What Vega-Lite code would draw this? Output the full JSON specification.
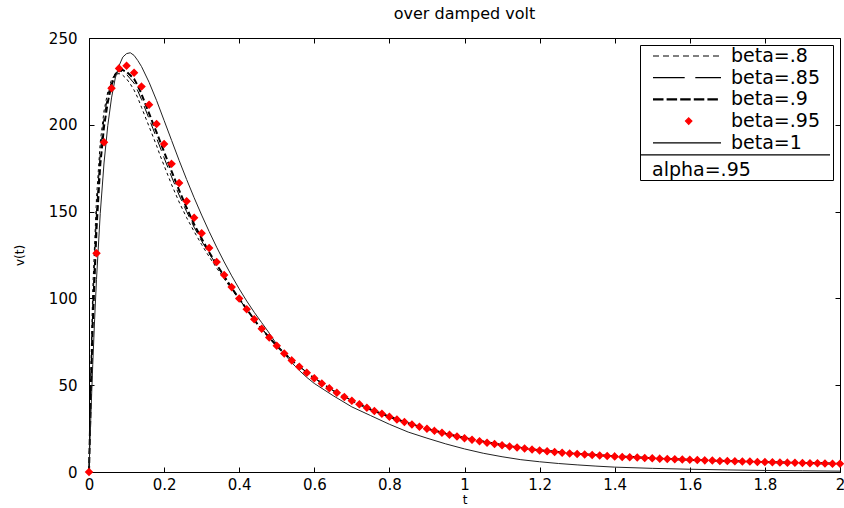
{
  "$schema": "https://vega.github.io/schema/vega-lite/v6.json",
  "width": 751,
  "height": 434,
  "autosize": {"type": "none"},
  "padding": {"left": 89, "top": 38, "right": 4, "bottom": 36},
  "config": {
    "font": "DejaVu Sans",
    "view": {"stroke": "#000", "strokeWidth": 1},
    "axis": {
      "labelFont": "DejaVu Sans", "labelColor": "#000", "labelFontSize": 15,
      "titleFont": "DejaVu Sans", "titleColor": "#000", "titleFontSize": 12, "titleFontWeight": "normal",
      "domain": false, "ticks": false, "grid": true, "gridColor": "#000", "gridOpacity": 1, "gridWidth": 1,
      "labelFlush": false
    },
    "legend": {
      "orient": "top-right", "offset": 7,
      "strokeColor": "#000", "strokeWidth": 1, "fillColor": "#fff", "padding": 0,
      "titleOrient": "bottom", "titleAnchor": "start", "titleFontSize": 19, "titleFontWeight": "normal",
      "titleFont": "DejaVu Sans", "titleColor": "#000", "titlePadding": 4,
      "labelFontSize": 19, "labelFont": "DejaVu Sans", "labelColor": "#000", "labelOffset": 69, "labelLimit": 300,
      "symbolSize": 400, "symbolStrokeWidth": 1.2, "rowPadding": 0.7
    }
  },
  "title": {"text": "over damped volt", "fontSize": 16, "fontWeight": "normal", "color": "#000", "offset": 9, "font": "DejaVu Sans"},
  "data": {"values": [
    {"series": "beta=.8", "t": 0, "v": 0}, {"series": "beta=.8", "t": 0.005, "v": 60}, {"series": "beta=.8", "t": 0.01, "v": 105}, {"series": "beta=.8", "t": 0.02, "v": 158}, {"series": "beta=.8", "t": 0.03, "v": 190}, {"series": "beta=.8", "t": 0.04, "v": 208}, {"series": "beta=.8", "t": 0.05, "v": 219}, {"series": "beta=.8", "t": 0.06, "v": 226}, {"series": "beta=.8", "t": 0.07, "v": 229}, {"series": "beta=.8", "t": 0.08, "v": 229.5}, {"series": "beta=.8", "t": 0.09, "v": 228.5}, {"series": "beta=.8", "t": 0.1, "v": 226.5}, {"series": "beta=.8", "t": 0.11, "v": 223.5}, {"series": "beta=.8", "t": 0.12, "v": 220}, {"series": "beta=.8", "t": 0.13, "v": 215.5}, {"series": "beta=.8", "t": 0.14, "v": 210}, {"series": "beta=.8", "t": 0.15, "v": 204.5}, {"series": "beta=.8", "t": 0.16, "v": 199}, {"series": "beta=.8", "t": 0.17, "v": 193.5}, {"series": "beta=.8", "t": 0.18, "v": 188}, {"series": "beta=.8", "t": 0.19, "v": 182}, {"series": "beta=.8", "t": 0.2, "v": 176.5}, {"series": "beta=.8", "t": 0.22, "v": 165.5}, {"series": "beta=.8", "t": 0.24, "v": 155.5}, {"series": "beta=.8", "t": 0.26, "v": 146.5}, {"series": "beta=.8", "t": 0.28, "v": 138.5}, {"series": "beta=.8", "t": 0.3, "v": 131}, {"series": "beta=.8", "t": 0.32, "v": 124}, {"series": "beta=.8", "t": 0.34, "v": 117.5}, {"series": "beta=.8", "t": 0.36, "v": 111.3}, {"series": "beta=.8", "t": 0.38, "v": 105.2}, {"series": "beta=.8", "t": 0.4, "v": 99.5}, {"series": "beta=.8", "t": 0.45, "v": 85}, {"series": "beta=.8", "t": 0.5, "v": 72.8}, {"series": "beta=.8", "t": 0.55, "v": 62.5}, {"series": "beta=.8", "t": 0.6, "v": 54.2}, {"series": "beta=.8", "t": 0.65, "v": 47}, {"series": "beta=.8", "t": 0.7, "v": 41.2}, {"series": "beta=.8", "t": 0.75, "v": 36.2}, {"series": "beta=.8", "t": 0.8, "v": 32}, {"series": "beta=.8", "t": 0.85, "v": 28.3}, {"series": "beta=.8", "t": 0.9, "v": 25.1}, {"series": "beta=.8", "t": 0.95, "v": 22.3}, {"series": "beta=.8", "t": 1, "v": 19.8}, {"series": "beta=.8", "t": 1.1, "v": 15.7}, {"series": "beta=.8", "t": 1.2, "v": 12.7}, {"series": "beta=.8", "t": 1.3, "v": 10.6}, {"series": "beta=.8", "t": 1.4, "v": 9.2}, {"series": "beta=.8", "t": 1.5, "v": 8.1}, {"series": "beta=.8", "t": 1.6, "v": 7.2}, {"series": "beta=.8", "t": 1.7, "v": 6.5}, {"series": "beta=.8", "t": 1.8, "v": 5.9}, {"series": "beta=.8", "t": 1.9, "v": 5.4}, {"series": "beta=.8", "t": 2, "v": 5},
    {"series": "beta=.85", "t": 0, "v": 0}, {"series": "beta=.85", "t": 0.005, "v": 52}, {"series": "beta=.85", "t": 0.01, "v": 95}, {"series": "beta=.85", "t": 0.02, "v": 150}, {"series": "beta=.85", "t": 0.03, "v": 184}, {"series": "beta=.85", "t": 0.04, "v": 204}, {"series": "beta=.85", "t": 0.05, "v": 217}, {"series": "beta=.85", "t": 0.06, "v": 225}, {"series": "beta=.85", "t": 0.07, "v": 229.5}, {"series": "beta=.85", "t": 0.08, "v": 231}, {"series": "beta=.85", "t": 0.09, "v": 230.5}, {"series": "beta=.85", "t": 0.1, "v": 229}, {"series": "beta=.85", "t": 0.11, "v": 226.5}, {"series": "beta=.85", "t": 0.12, "v": 224}, {"series": "beta=.85", "t": 0.13, "v": 219.5}, {"series": "beta=.85", "t": 0.14, "v": 214.5}, {"series": "beta=.85", "t": 0.15, "v": 209}, {"series": "beta=.85", "t": 0.16, "v": 203.5}, {"series": "beta=.85", "t": 0.17, "v": 198}, {"series": "beta=.85", "t": 0.18, "v": 192.3}, {"series": "beta=.85", "t": 0.19, "v": 186.7}, {"series": "beta=.85", "t": 0.2, "v": 181}, {"series": "beta=.85", "t": 0.22, "v": 170}, {"series": "beta=.85", "t": 0.24, "v": 159.5}, {"series": "beta=.85", "t": 0.26, "v": 150}, {"series": "beta=.85", "t": 0.28, "v": 141}, {"series": "beta=.85", "t": 0.3, "v": 133}, {"series": "beta=.85", "t": 0.32, "v": 126}, {"series": "beta=.85", "t": 0.34, "v": 119}, {"series": "beta=.85", "t": 0.36, "v": 112.5}, {"series": "beta=.85", "t": 0.38, "v": 105.8}, {"series": "beta=.85", "t": 0.4, "v": 99.7}, {"series": "beta=.85", "t": 0.45, "v": 84.9}, {"series": "beta=.85", "t": 0.5, "v": 72.7}, {"series": "beta=.85", "t": 0.55, "v": 62.4}, {"series": "beta=.85", "t": 0.6, "v": 54.1}, {"series": "beta=.85", "t": 0.65, "v": 46.9}, {"series": "beta=.85", "t": 0.7, "v": 41.1}, {"series": "beta=.85", "t": 0.75, "v": 36.1}, {"series": "beta=.85", "t": 0.8, "v": 31.9}, {"series": "beta=.85", "t": 0.85, "v": 28.2}, {"series": "beta=.85", "t": 0.9, "v": 25}, {"series": "beta=.85", "t": 0.95, "v": 22.2}, {"series": "beta=.85", "t": 1, "v": 19.7}, {"series": "beta=.85", "t": 1.1, "v": 15.6}, {"series": "beta=.85", "t": 1.2, "v": 12.6}, {"series": "beta=.85", "t": 1.3, "v": 10.5}, {"series": "beta=.85", "t": 1.4, "v": 9.1}, {"series": "beta=.85", "t": 1.5, "v": 8}, {"series": "beta=.85", "t": 1.6, "v": 7.1}, {"series": "beta=.85", "t": 1.7, "v": 6.4}, {"series": "beta=.85", "t": 1.8, "v": 5.8}, {"series": "beta=.85", "t": 1.9, "v": 5.3}, {"series": "beta=.85", "t": 2, "v": 4.9},
    {"series": "beta=.9", "t": 0, "v": 0}, {"series": "beta=.9", "t": 0.005, "v": 45}, {"series": "beta=.9", "t": 0.01, "v": 85}, {"series": "beta=.9", "t": 0.02, "v": 140}, {"series": "beta=.9", "t": 0.03, "v": 177}, {"series": "beta=.9", "t": 0.04, "v": 199}, {"series": "beta=.9", "t": 0.05, "v": 213}, {"series": "beta=.9", "t": 0.06, "v": 223}, {"series": "beta=.9", "t": 0.07, "v": 229}, {"series": "beta=.9", "t": 0.08, "v": 231.5}, {"series": "beta=.9", "t": 0.09, "v": 231.5}, {"series": "beta=.9", "t": 0.1, "v": 230.5}, {"series": "beta=.9", "t": 0.11, "v": 228.5}, {"series": "beta=.9", "t": 0.12, "v": 226.5}, {"series": "beta=.9", "t": 0.13, "v": 222.5}, {"series": "beta=.9", "t": 0.14, "v": 217.6}, {"series": "beta=.9", "t": 0.15, "v": 212}, {"series": "beta=.9", "t": 0.16, "v": 206.6}, {"series": "beta=.9", "t": 0.17, "v": 201}, {"series": "beta=.9", "t": 0.18, "v": 195.6}, {"series": "beta=.9", "t": 0.19, "v": 190}, {"series": "beta=.9", "t": 0.2, "v": 184.4}, {"series": "beta=.9", "t": 0.22, "v": 173.2}, {"series": "beta=.9", "t": 0.24, "v": 162.3}, {"series": "beta=.9", "t": 0.26, "v": 152.2}, {"series": "beta=.9", "t": 0.28, "v": 142.7}, {"series": "beta=.9", "t": 0.3, "v": 134.5}, {"series": "beta=.9", "t": 0.32, "v": 126.6}, {"series": "beta=.9", "t": 0.34, "v": 119.5}, {"series": "beta=.9", "t": 0.36, "v": 112.8}, {"series": "beta=.9", "t": 0.38, "v": 106}, {"series": "beta=.9", "t": 0.4, "v": 99.8}, {"series": "beta=.9", "t": 0.45, "v": 84.8}, {"series": "beta=.9", "t": 0.5, "v": 72.6}, {"series": "beta=.9", "t": 0.55, "v": 62.3}, {"series": "beta=.9", "t": 0.6, "v": 54}, {"series": "beta=.9", "t": 0.65, "v": 46.8}, {"series": "beta=.9", "t": 0.7, "v": 41}, {"series": "beta=.9", "t": 0.75, "v": 36}, {"series": "beta=.9", "t": 0.8, "v": 31.8}, {"series": "beta=.9", "t": 0.85, "v": 28.1}, {"series": "beta=.9", "t": 0.9, "v": 24.9}, {"series": "beta=.9", "t": 0.95, "v": 22.1}, {"series": "beta=.9", "t": 1, "v": 19.6}, {"series": "beta=.9", "t": 1.1, "v": 15.5}, {"series": "beta=.9", "t": 1.2, "v": 12.5}, {"series": "beta=.9", "t": 1.3, "v": 10.5}, {"series": "beta=.9", "t": 1.4, "v": 9.1}, {"series": "beta=.9", "t": 1.5, "v": 8}, {"series": "beta=.9", "t": 1.6, "v": 7}, {"series": "beta=.9", "t": 1.7, "v": 6.3}, {"series": "beta=.9", "t": 1.8, "v": 5.7}, {"series": "beta=.9", "t": 1.9, "v": 5.2}, {"series": "beta=.9", "t": 2, "v": 4.8},
    {"series": "beta=1", "t": 0, "v": 0}, {"series": "beta=1", "t": 0.005, "v": 33}, {"series": "beta=1", "t": 0.01, "v": 62}, {"series": "beta=1", "t": 0.015, "v": 88}, {"series": "beta=1", "t": 0.02, "v": 111}, {"series": "beta=1", "t": 0.03, "v": 149}, {"series": "beta=1", "t": 0.04, "v": 178}, {"series": "beta=1", "t": 0.05, "v": 199.5}, {"series": "beta=1", "t": 0.06, "v": 215.5}, {"series": "beta=1", "t": 0.07, "v": 227}, {"series": "beta=1", "t": 0.08, "v": 234}, {"series": "beta=1", "t": 0.09, "v": 239}, {"series": "beta=1", "t": 0.1, "v": 241}, {"series": "beta=1", "t": 0.11, "v": 241.5}, {"series": "beta=1", "t": 0.12, "v": 240}, {"series": "beta=1", "t": 0.13, "v": 237}, {"series": "beta=1", "t": 0.14, "v": 233.5}, {"series": "beta=1", "t": 0.16, "v": 224.5}, {"series": "beta=1", "t": 0.18, "v": 214}, {"series": "beta=1", "t": 0.2, "v": 202.5}, {"series": "beta=1", "t": 0.22, "v": 191}, {"series": "beta=1", "t": 0.24, "v": 179.5}, {"series": "beta=1", "t": 0.26, "v": 168.5}, {"series": "beta=1", "t": 0.28, "v": 158}, {"series": "beta=1", "t": 0.3, "v": 148}, {"series": "beta=1", "t": 0.32, "v": 138.5}, {"series": "beta=1", "t": 0.34, "v": 129.5}, {"series": "beta=1", "t": 0.36, "v": 121}, {"series": "beta=1", "t": 0.38, "v": 113}, {"series": "beta=1", "t": 0.4, "v": 105.5}, {"series": "beta=1", "t": 0.42, "v": 98.5}, {"series": "beta=1", "t": 0.44, "v": 92}, {"series": "beta=1", "t": 0.46, "v": 86}, {"series": "beta=1", "t": 0.48, "v": 80}, {"series": "beta=1", "t": 0.5, "v": 73.5}, {"series": "beta=1", "t": 0.52, "v": 68}, {"series": "beta=1", "t": 0.54, "v": 63}, {"series": "beta=1", "t": 0.56, "v": 58.5}, {"series": "beta=1", "t": 0.58, "v": 54.5}, {"series": "beta=1", "t": 0.6, "v": 51}, {"series": "beta=1", "t": 0.65, "v": 44}, {"series": "beta=1", "t": 0.7, "v": 37.5}, {"series": "beta=1", "t": 0.75, "v": 32.5}, {"series": "beta=1", "t": 0.8, "v": 27.5}, {"series": "beta=1", "t": 0.85, "v": 23}, {"series": "beta=1", "t": 0.9, "v": 19.5}, {"series": "beta=1", "t": 0.95, "v": 16.2}, {"series": "beta=1", "t": 1, "v": 13.3}, {"series": "beta=1", "t": 1.05, "v": 10.8}, {"series": "beta=1", "t": 1.1, "v": 8.8}, {"series": "beta=1", "t": 1.15, "v": 7.1}, {"series": "beta=1", "t": 1.2, "v": 5.9}, {"series": "beta=1", "t": 1.25, "v": 4.9}, {"series": "beta=1", "t": 1.3, "v": 4.1}, {"series": "beta=1", "t": 1.35, "v": 3.4}, {"series": "beta=1", "t": 1.4, "v": 2.8}, {"series": "beta=1", "t": 1.5, "v": 2.1}, {"series": "beta=1", "t": 1.6, "v": 1.6}, {"series": "beta=1", "t": 1.7, "v": 1.2}, {"series": "beta=1", "t": 1.8, "v": 0.9}, {"series": "beta=1", "t": 1.9, "v": 0.7}, {"series": "beta=1", "t": 2, "v": 0.5},
    {"series": "beta=.95", "t": 0, "v": 0}, {"series": "beta=.95", "t": 0.02, "v": 126}, {"series": "beta=.95", "t": 0.04, "v": 190}, {"series": "beta=.95", "t": 0.06, "v": 221}, {"series": "beta=.95", "t": 0.08, "v": 232.5}, {"series": "beta=.95", "t": 0.1, "v": 234}, {"series": "beta=.95", "t": 0.12, "v": 230}, {"series": "beta=.95", "t": 0.14, "v": 222}, {"series": "beta=.95", "t": 0.16, "v": 211.5}, {"series": "beta=.95", "t": 0.18, "v": 200.5}, {"series": "beta=.95", "t": 0.2, "v": 189}, {"series": "beta=.95", "t": 0.22, "v": 177.5}, {"series": "beta=.95", "t": 0.24, "v": 166.5}, {"series": "beta=.95", "t": 0.26, "v": 156}, {"series": "beta=.95", "t": 0.28, "v": 146.5}, {"series": "beta=.95", "t": 0.3, "v": 137.5}, {"series": "beta=.95", "t": 0.32, "v": 129}, {"series": "beta=.95", "t": 0.34, "v": 121}, {"series": "beta=.95", "t": 0.36, "v": 113.5}, {"series": "beta=.95", "t": 0.38, "v": 106.5}, {"series": "beta=.95", "t": 0.4, "v": 100}, {"series": "beta=.95", "t": 0.42, "v": 93.7}, {"series": "beta=.95", "t": 0.44, "v": 88}, {"series": "beta=.95", "t": 0.46, "v": 82.5}, {"series": "beta=.95", "t": 0.48, "v": 77.5}, {"series": "beta=.95", "t": 0.5, "v": 72.7}, {"series": "beta=.95", "t": 0.52, "v": 68.3}, {"series": "beta=.95", "t": 0.54, "v": 64.3}, {"series": "beta=.95", "t": 0.56, "v": 60.6}, {"series": "beta=.95", "t": 0.58, "v": 57.2}, {"series": "beta=.95", "t": 0.6, "v": 54}, {"series": "beta=.95", "t": 0.62, "v": 51}, {"series": "beta=.95", "t": 0.64, "v": 48.2}, {"series": "beta=.95", "t": 0.66, "v": 45.6}, {"series": "beta=.95", "t": 0.68, "v": 43.2}, {"series": "beta=.95", "t": 0.7, "v": 41}, {"series": "beta=.95", "t": 0.72, "v": 39}, {"series": "beta=.95", "t": 0.74, "v": 37}, {"series": "beta=.95", "t": 0.76, "v": 35.2}, {"series": "beta=.95", "t": 0.78, "v": 33.5}, {"series": "beta=.95", "t": 0.8, "v": 31.8}, {"series": "beta=.95", "t": 0.82, "v": 30.3}, {"series": "beta=.95", "t": 0.84, "v": 28.8}, {"series": "beta=.95", "t": 0.86, "v": 27.4}, {"series": "beta=.95", "t": 0.88, "v": 26.1}, {"series": "beta=.95", "t": 0.9, "v": 24.9}, {"series": "beta=.95", "t": 0.92, "v": 23.7}, {"series": "beta=.95", "t": 0.94, "v": 22.6}, {"series": "beta=.95", "t": 0.96, "v": 21.5}, {"series": "beta=.95", "t": 0.98, "v": 20.5}, {"series": "beta=.95", "t": 1, "v": 19.5}, {"series": "beta=.95", "t": 1.02, "v": 18.6}, {"series": "beta=.95", "t": 1.04, "v": 17.7}, {"series": "beta=.95", "t": 1.06, "v": 16.9}, {"series": "beta=.95", "t": 1.08, "v": 16.1}, {"series": "beta=.95", "t": 1.1, "v": 15.4}, {"series": "beta=.95", "t": 1.12, "v": 14.7}, {"series": "beta=.95", "t": 1.14, "v": 14.1}, {"series": "beta=.95", "t": 1.16, "v": 13.5}, {"series": "beta=.95", "t": 1.18, "v": 12.9}, {"series": "beta=.95", "t": 1.2, "v": 12.4}, {"series": "beta=.95", "t": 1.22, "v": 11.9}, {"series": "beta=.95", "t": 1.24, "v": 11.5}, {"series": "beta=.95", "t": 1.26, "v": 11.1}, {"series": "beta=.95", "t": 1.28, "v": 10.7}, {"series": "beta=.95", "t": 1.3, "v": 10.4}, {"series": "beta=.95", "t": 1.32, "v": 10.1}, {"series": "beta=.95", "t": 1.34, "v": 9.8}, {"series": "beta=.95", "t": 1.36, "v": 9.5}, {"series": "beta=.95", "t": 1.38, "v": 9.2}, {"series": "beta=.95", "t": 1.4, "v": 9}, {"series": "beta=.95", "t": 1.42, "v": 8.7}, {"series": "beta=.95", "t": 1.44, "v": 8.5}, {"series": "beta=.95", "t": 1.46, "v": 8.3}, {"series": "beta=.95", "t": 1.48, "v": 8.1}, {"series": "beta=.95", "t": 1.5, "v": 7.9}, {"series": "beta=.95", "t": 1.52, "v": 7.7}, {"series": "beta=.95", "t": 1.54, "v": 7.5}, {"series": "beta=.95", "t": 1.56, "v": 7.3}, {"series": "beta=.95", "t": 1.58, "v": 7.2}, {"series": "beta=.95", "t": 1.6, "v": 7}, {"series": "beta=.95", "t": 1.62, "v": 6.9}, {"series": "beta=.95", "t": 1.64, "v": 6.7}, {"series": "beta=.95", "t": 1.66, "v": 6.6}, {"series": "beta=.95", "t": 1.68, "v": 6.4}, {"series": "beta=.95", "t": 1.7, "v": 6.3}, {"series": "beta=.95", "t": 1.72, "v": 6.2}, {"series": "beta=.95", "t": 1.74, "v": 6.1}, {"series": "beta=.95", "t": 1.76, "v": 6}, {"series": "beta=.95", "t": 1.78, "v": 5.8}, {"series": "beta=.95", "t": 1.8, "v": 5.7}, {"series": "beta=.95", "t": 1.82, "v": 5.6}, {"series": "beta=.95", "t": 1.84, "v": 5.5}, {"series": "beta=.95", "t": 1.86, "v": 5.4}, {"series": "beta=.95", "t": 1.88, "v": 5.3}, {"series": "beta=.95", "t": 1.9, "v": 5.2}, {"series": "beta=.95", "t": 1.92, "v": 5.1}, {"series": "beta=.95", "t": 1.94, "v": 5}, {"series": "beta=.95", "t": 1.96, "v": 4.9}, {"series": "beta=.95", "t": 1.98, "v": 4.8}, {"series": "beta=.95", "t": 2, "v": 4.7}
  ]},
  "encoding": {
    "x": {"field": "t", "type": "quantitative", "scale": {"domain": [0, 2], "nice": false},
      "axis": {"values": [0, 0.2, 0.4, 0.6, 0.8, 1, 1.2, 1.4, 1.6, 1.8, 2], "format": "~g", "title": "t", "gridDash": [5, 424, 5, 10000], "labelPadding": 5, "titlePadding": 2}},
    "y": {"field": "v", "type": "quantitative", "scale": {"domain": [0, 250], "nice": false},
      "axis": {"values": [0, 50, 100, 150, 200, 250], "title": "v(t)", "gridDash": [5, 741, 5, 10000], "labelPadding": 12, "titlePadding": 22}}
  },
  "layer": [
    {"transform": [{"filter": "datum.series == 'beta=.8'"}], "mark": {"type": "line", "color": "#000", "strokeWidth": 1, "strokeDash": [3, 3]}},
    {"transform": [{"filter": "datum.series == 'beta=.85'"}], "mark": {"type": "line", "color": "#000", "strokeWidth": 1, "strokeDash": [12, 6]}},
    {"transform": [{"filter": "datum.series == 'beta=.9'"}], "mark": {"type": "line", "color": "#000", "strokeWidth": 2, "strokeDash": [6, 3]}},
    {"transform": [{"filter": "datum.series == 'beta=1'"}], "mark": {"type": "line", "color": "#222", "strokeWidth": 1}},
    {"transform": [{"filter": "datum.series == 'beta=.95'"}], "mark": {"type": "point", "filled": true, "size": 400, "strokeWidth": 1.5, "opacity": 1, "xOffset": -37.7},
      "encoding": {
        "fill": {"field": "series", "type": "nominal",
          "scale": {"domain": ["beta=.8", "beta=.85", "beta=.9", "beta=.95", "beta=1"], "range": ["#000", "#000", "#000", "#ff0000", "#000"]},
          "legend": {"title": "alpha=.95", "encoding": {"title": {"dx": {"value": 12}}}}},
        "stroke": {"field": "series", "type": "nominal",
          "scale": {"domain": ["beta=.8", "beta=.85", "beta=.9", "beta=.95", "beta=1"], "range": ["#000", "#000", "#000", "#ff0000", "#000"]},
          "legend": {"title": "alpha=.95", "encoding": {"title": {"dx": {"value": 12}}}}},
        "shape": {"field": "series", "type": "nominal",
          "scale": {"domain": ["beta=.8", "beta=.85", "beta=.9", "beta=.95", "beta=1"],
            "range": [
              "M0.2,0h0.6M1.2,0h0.6M2.2,0h0.6M3.2,0h0.6M4.2,0h0.6M5.2,0h0.6M6.2,0h0.6",
              "M0.2,0H3.37M4.43,0H7",
              "M0.2,-0.05h1.05M1.56,-0.05h1.05M2.92,-0.05h1.05M4.28,-0.05h1.05M5.64,-0.05h1.05M0.2,0.05h1.05M1.56,0.05h1.05M2.92,0.05h1.05M4.28,0.05h1.05M5.64,0.05h1.05",
              "M3.77,-0.32L4.09,0L3.77,0.32L3.45,0Z",
              "M0.2,0H7M-1,1.2H17.9"
            ]},
          "legend": {"title": "alpha=.95", "encoding": {"title": {"dx": {"value": 12}}}}}
      }}
  ]
}
